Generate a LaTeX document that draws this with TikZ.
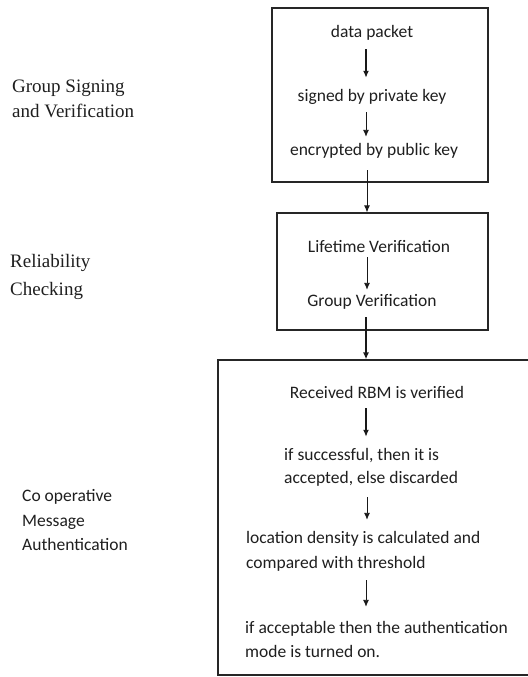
\documentclass[tikz,border=0pt]{standalone}
\usepackage{fontspec}
\setmainfont{Carlito}
\newfontfamily\serifl{Liberation Serif}
\newfontfamily\calib{Carlito}
\usetikzlibrary{arrows.meta}
\begin{document}
\begin{tikzpicture}[x=1bp,y=-1bp,
  box/.style={draw=black!85,line width=1.2bp,rectangle,inner sep=0pt},
  txt/.style={inner sep=0pt,text height=12bp,text depth=4bp,font=\calib\fontsize{17.5bp}{21bp}\selectfont,text=black!88},
  lbl/.style={inner sep=0pt,anchor=base west,font=\serifl\fontsize{19bp}{23bp}\selectfont,text=black!88},
  lblc/.style={inner sep=0pt,anchor=base west,font=\calib\fontsize{17.5bp}{21bp}\selectfont,text=black!88},
  arr/.style={-{Latex[length=7bp,width=6bp]},line width=0.9bp,draw=black!90},
  arrb/.style={arr,line width=1.4bp}]
\useasboundingbox (0,0) rectangle (528,677);
\fill[white] (0,0) rectangle (528,677);
% boxes
\node[box,minimum width=216bp,minimum height=174bp] (b1) at (380,95) {};
\node[box,minimum width=211bp,minimum height=117bp] (b2) at (382.5,271.5) {};
\node[box,minimum width=312bp,minimum height=315bp] (b3) at (374,517.5) {};
\coordinate (ax) at (366,0);
% box 1
\node[txt,anchor=base] (dp) at (372,38) {data packet};
\node[txt,anchor=base] (sg) at (372,102) {signed by private key};
\node[txt,anchor=base] (en) at (374,155) {encrypted by public key};
% box 2
\node[txt,anchor=base] (lt) at (379,252) {Lifetime Verification};
\node[txt,anchor=base] (gv) at (372,306) {Group Verification};
% box 3
\node[txt,anchor=base] (rb) at (377,398) {Received RBM is verified};
\node[txt,anchor=base west] (sc1) at (284,460) {if successful, then it is};
\node[txt,anchor=base west] (sc2) at (284,483) {accepted, else discarded};
\node[txt,anchor=base west] (lo1) at (246,543) {location density is calculated and};
\node[txt,anchor=base west] (lo2) at (246,568) {compared with threshold};
\node[txt,anchor=base west] (ia1) at (245,633) {if acceptable then the authentication};
\node[txt,anchor=base west] (ia2) at (245,657) {mode is turned on.};
% left labels
\node[lbl] (l1a) at (12,93) {Group Signing};
\node[lbl] (l1b) at (12,118) {and Verification};
\node[lbl] (l2a) at (10,267) {Reliability};
\node[lbl] (l2b) at (10,295) {Checking};
\node[lblc] (l3a) at (22,501) {Co operative};
\node[lblc] (l3b) at (22,526) {Message};
\node[lblc] (l3c) at (22,550) {Authentication};
% arrows
\draw[arrb,shorten <=7bp,shorten >=12bp] (dp.south -| ax) -- (sg.north -| ax);
\draw[arr,shorten <=6bp,shorten >=6bp] (sg.south -| ax) -- (en.north -| ax);
\draw[arr,shorten <=11bp,shorten >=0bp] ([xshift=1bp]en.south -| ax) -- ([xshift=1bp]b2.north -| ax);
\draw[arr,shorten <=1bp,shorten >=4bp] ([xshift=1bp]lt.south -| ax) -- ([xshift=1bp]gv.north -| ax);
\draw[arrb,shorten <=7bp,shorten >=0bp] (gv.south -| ax) -- (b3.north -| ax);
\draw[arrb,shorten <=6bp,shorten >=11bp] (rb.south -| ax) -- (sc1.north -| ax);
\draw[arr,shorten <=10bp,shorten >=11bp] ([xshift=1bp]sc2.south -| ax) -- ([xshift=1bp]lo1.north -| ax);
\draw[arr,shorten <=8bp,shorten >=14bp] (lo2.south -| ax) -- (ia1.north -| ax);
\end{tikzpicture}
\end{document}
